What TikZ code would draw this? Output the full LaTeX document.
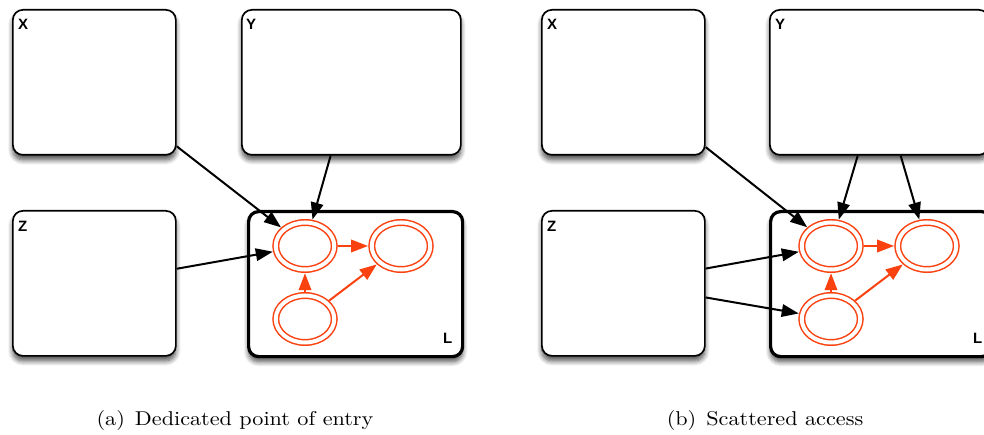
\documentclass[tikz,border=0pt]{standalone}
\usepackage{fontspec}
\usetikzlibrary{arrows.meta,shapes.geometric,shadows.blur}
\newfontfamily\labelfont{Liberation Sans}
\newfontfamily\capfont{lmroman10-regular}[Extension=.otf]
\definecolor{stateRed}{RGB}{250,66,16}
\newcommand{\captext}[1]{\scalebox{1.11}[1]{\capfont\fontsize{20}{24}\selectfont #1}}
\begin{document}
\begin{tikzpicture}[x=1pt,y=-1pt,
  panel/.style={draw=black,fill=white,line width=1.7pt,rounded corners=10pt,
    minimum width=#1,minimum height=145pt,anchor=north west,inner sep=0pt,
    blur shadow={shadow xshift=0pt,shadow yshift=-5pt,shadow blur radius=5pt,
      shadow opacity=70,shadow blur steps=8}},
  panel/.default=163pt,
  home/.style={panel=#1,line width=3.2pt},
  tag/.style={font=\labelfont\bfseries\fontsize{15}{17}\selectfont,anchor=base west,inner sep=0pt},
  state/.style={ellipse,draw=stateRed,double=white,double distance=4pt,line width=1.5pt,
    minimum width=58.5pt,minimum height=47pt,inner sep=0pt,outer sep=3.7pt},
  link/.style={line width=2pt,-{Triangle[length=17pt,width=12.5pt]}},
  hop/.style={link,draw=stateRed,fill=stateRed},
  caption/.style={anchor=base,inner sep=0pt}]
\useasboundingbox (0,0) rectangle (984,435);

% ---------- (a) dedicated point of entry ----------
\node[panel] (Xa) at (12,9) {};
\node[panel=219pt] (Ya) at (241,9) {};
\node[panel] (Za) at (12,210) {};
\node[home=214pt] (La) at (247,210) {};
\node[tag] (Xat) at (18,29.5) {X};
\node[tag] (Yat) at (246,29.5) {Y};
\node[tag] (Zat) at (18,231.5) {Z};
\node[tag] (Lat) at (443,343.5) {L};

\node[state] (a1) at (305,246) {};
\node[state] (a2) at (401,246) {};
\node[state] (a3) at (305,319) {};

\draw[link] (Xa) -- (a1);
\draw[link] (Ya) -- (a1);
\draw[link] (Za) -- (a1);
\draw[hop] (a1) -- (a2);
\draw[hop] (a3) -- (a1);
\draw[hop] (a3) -- (a2);

% ---------- (b) scattered access ----------
\node[panel] (Xb) at (541,9) {};
\node[panel=219pt] (Yb) at (769,9) {};
\node[panel] (Zb) at (541,210) {};
\node[home=221pt] (Lb) at (769,210) {};
\node[tag] (Xbt) at (547,29.5) {X};
\node[tag] (Ybt) at (775,29.5) {Y};
\node[tag] (Zbt) at (547,231.5) {Z};
\node[tag] (Lbt) at (973,343.5) {L};

\node[state] (b1) at (831,246) {};
\node[state] (b2) at (927,246) {};
\node[state] (b3) at (831,319) {};

\draw[link] (Xb) -- (b1);
\draw[link] (Yb) -- (b1);
\draw[link] (Yb) -- (b2);
\draw[link] (Zb) -- (b1);
\draw[link] (Zb) -- (b3);
\draw[hop] (b1) -- (b2);
\draw[hop] (b3) -- (b1);
\draw[hop] (b3) -- (b2);

% ---------- captions ----------
\node[caption] (capa) at (235,425) {\captext{(a)\hskip0.45em Dedicated point of entry}};
\node[caption] (capb) at (765,425) {\captext{(b)\hskip0.45em Scattered access}};
\end{tikzpicture}
\end{document}
